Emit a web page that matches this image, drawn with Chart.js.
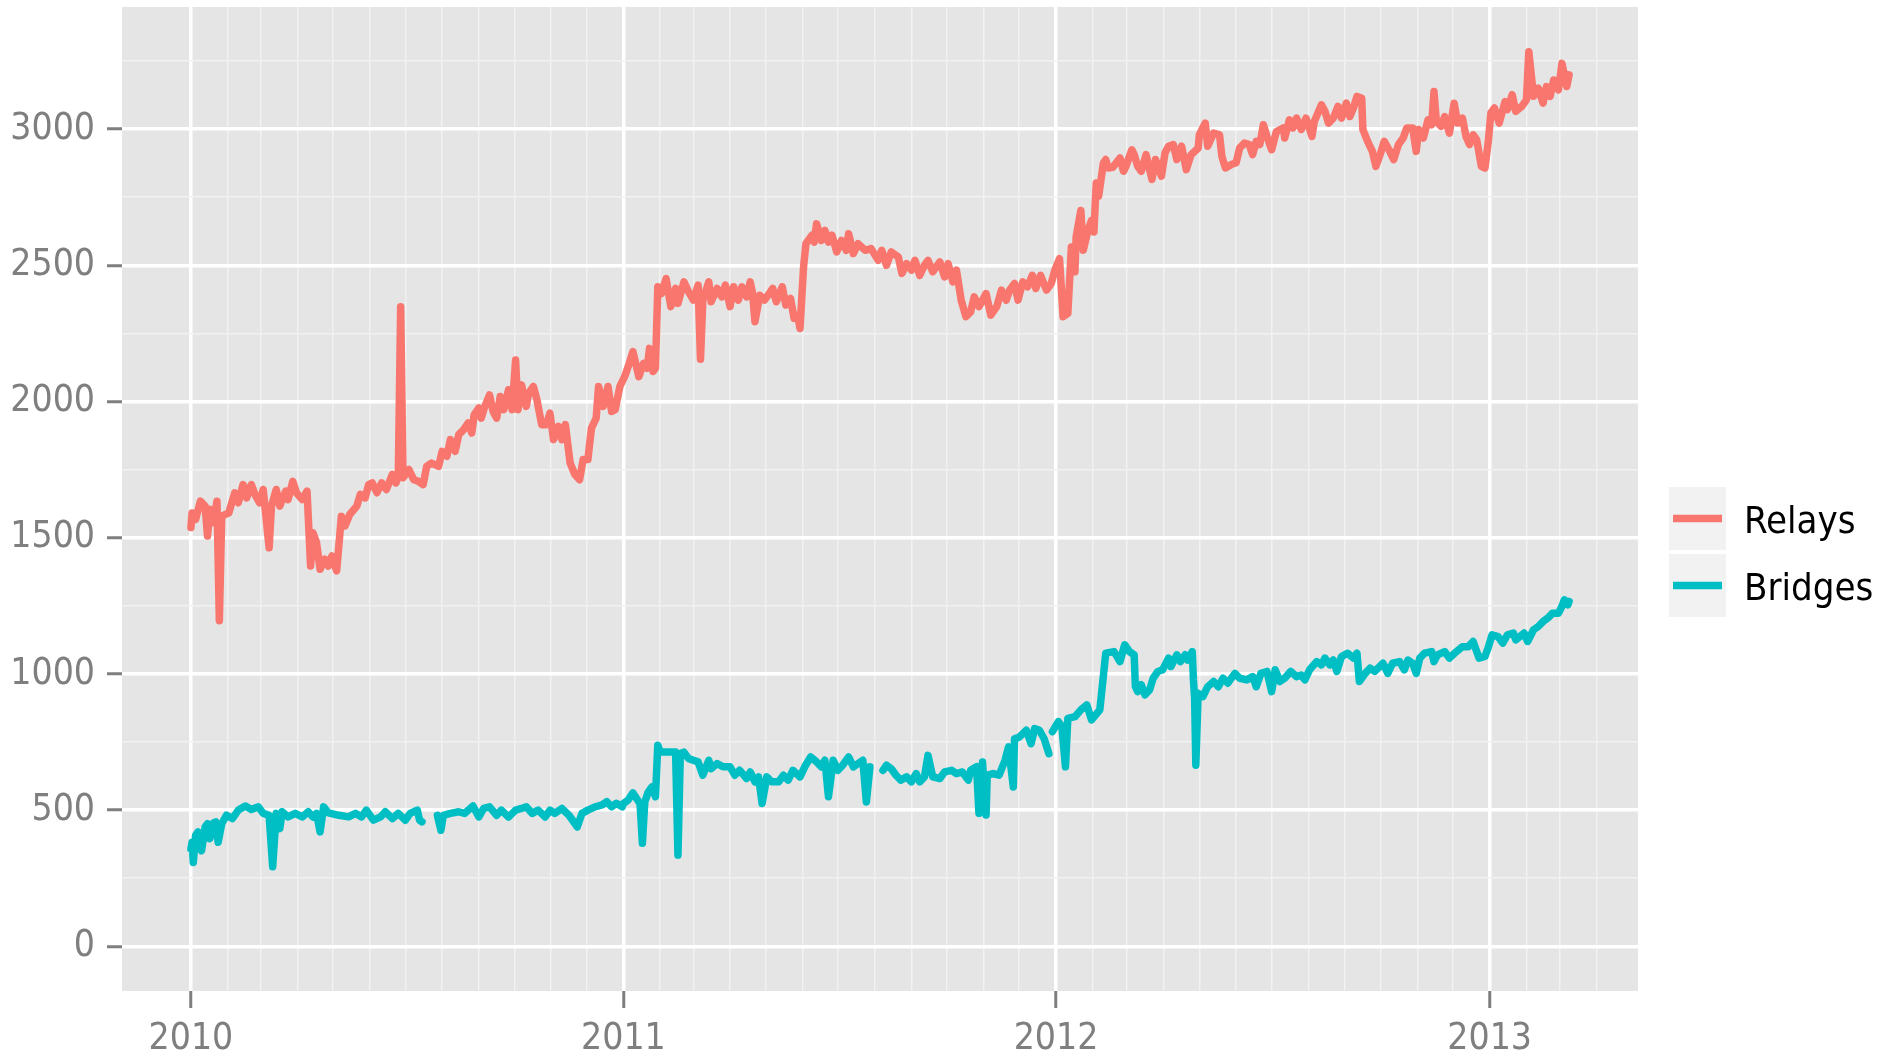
<!DOCTYPE html>
<html><head><meta charset="utf-8">
<script src="https://cdn.jsdelivr.net/npm/chart.js@4/dist/chart.umd.min.js"></script>
<style>html,body{margin:0;padding:0;background:#fff;overflow:hidden}canvas{display:block}</style>
</head><body>
<canvas id="c" width="1893" height="1057"></canvas>
<script>
// ---- data (day offsets from startDate) ----
const startDate = '2010-01-01';
const seriesNames = ['Relays', 'Bridges'];
const seriesColors = ['#F8766D', '#00BFC4'];

const relayDays = [0,1,4,8,12,14,16,19,22,24,26,32,37,40,44,47,51,54,58,61,66,68,72,75,80,82,86,89,94,98,101,103,106,109,113,116,119,123,127,130,134,140,143,147,150,153,157,161,165,170,173,175,177,179,184,188,192,196,199,203,209,212,216,219,223,226,230,234,237,239,243,245,248,252,255,258,261,264,268,271,274,276,279,283,285,289,292,296,300,303,306,310,313,316,320,324,328,331,335,338,342,344,348,352,355,358,362,
366,369,373,378,382,385,387,390,392,394,397,401,405,409,411,416,420,424,428,430,432,437,439,444,448,451,455,458,462,465,469,472,474,476,480,484,489,491,494,499,502,506,509,512,514,517,519,524,526,528,532,535,538,541,545,549,553,555,559,563,569,574,580,583,587,591,597,600,604,608,611,615,619,622,626,632,636,639,643,646,650,654,658,661,665,671,675,680,684,688,691,695,698,702,706,710,713,717,722,726,729,733,736,740,743,746,747,751,753,757,760,762,764,766,770,772,774,778,
784,787,789,794,796,799,802,806,811,814,819,822,825,829,832,836,840,844,850,851,856,858,863,868,870,873,878,882,885,889,893,896,899,902,905,908,912,916,922,923,927,930,933,937,941,946,948,954,957,960,964,968,971,975,978,981,984,988,989,993,997,1000,1004,1007,1011,1015,1019,1023,1026,1031,1034,1036,1040,1044,1047,1049,1051,1055,1058,1062,1066,1069,1073,1076,1079,1082,1085,1089,1092,1095,1097,1100,1104,1109,1111,1115,1118,1123,1127,1129,1133,1137,1141,1144,1147,1150,1154,1157,1161,1163];
const relayCounts = [1537,1591,1567,1634,1616,1506,1604,1555,1634,1195,1579,1591,1665,1628,1695,1646,1695,1659,1628,1677,1463,1616,1677,1616,1671,1640,1707,1665,1640,1671,1396,1518,1482,1384,1421,1396,1433,1378,1579,1543,1585,1616,1659,1646,1695,1701,1665,1701,1677,1732,1701,1726,2348,1720,1750,1713,1707,1695,1762,1774,1762,1817,1799,1860,1817,1878,1896,1921,1884,1951,1976,1939,1982,2024,1963,1939,2018,1970,2043,1970,2152,1970,2061,1982,2030,2055,2006,1915,1915,1957,1860,1909,1860,1915,1774,1732,1713,1787,1787,1902,1939,2055,1982,2055,1963,1970,2055,
2091,2128,2183,2091,2140,2122,2195,2110,2122,2421,2396,2451,2348,2415,2360,2439,2402,2372,2427,2155,2372,2439,2366,2415,2384,2427,2348,2421,2372,2421,2384,2439,2396,2293,2390,2372,2402,2415,2366,2421,2354,2378,2305,2317,2268,2494,2579,2610,2585,2652,2591,2628,2585,2610,2549,2591,2555,2616,2543,2579,2555,2561,2518,2555,2500,2549,2530,2470,2506,2482,2518,2463,2500,2518,2476,2512,2457,2506,2439,2482,2372,2311,2329,2384,2348,2396,2317,2348,2409,2372,2409,2433,2372,2439,2421,2463,2415,2463,2409,2433,2482,2524,2311,2323,2567,2476,2604,2701,2555,2628,2665,2622,2802,2753,2875,2888,2857,2860,
2894,2845,2863,2924,2906,2863,2845,2906,2815,2888,2827,2912,2937,2943,2888,2937,2851,2906,2930,2979,3022,2937,2985,2979,2900,2857,2870,2876,2930,2949,2943,2906,2955,2943,3016,2973,2924,2991,3004,2967,3034,3004,3040,2998,3040,2973,3028,3089,3065,3022,3040,3083,3040,3095,3046,3077,3120,3113,2998,2955,2918,2863,2912,2955,2924,2888,2943,2967,3004,3004,2918,2998,2967,3034,3016,3138,3028,3010,3046,2985,3095,3022,3040,2973,2943,2979,2961,2863,2857,2961,3059,3077,3022,3101,3071,3126,3065,3083,3107,3284,3120,3150,3095,3156,3120,3180,3144,3241,3156,3199];

const bridgeDays = [0,1,2,4,6,9,12,14,16,18,21,23,26,30,35,40,46,51,57,61,66,69,72,75,77,82,88,94,99,103,106,109,112,116,125,133,139,144,148,154,160,164,170,175,181,185,191,193,195,200,208,211,213,219,226,231,238,243,247,252,258,262,268,274,279,283,288,293,299,303,307,313,319,323,326,330,335,341,347,351,355,359,364,
365,369,373,376,379,381,383,386,389,392,394,396,402,409,411,413,416,420,424,428,432,437,439,444,449,455,459,463,469,472,476,479,482,486,490,496,500,504,508,514,518,523,528,532,535,538,542,546,550,555,559,563,567,570,573,578,584,587,591,595,599,604,608,612,615,619,622,626,632,636,642,646,651,656,658,663,665,668,671,672,677,682,687,690,694,695,699,705,709,712,716,720,724,725,727,732,735,738,740,746,751,756,760,767,772,779,
784,788,792,796,797,799,802,805,809,812,816,820,825,827,832,835,839,841,845,846,847,848,850,854,858,863,867,871,875,881,885,891,896,899,903,908,912,915,919,923,928,933,937,940,944,950,954,957,961,964,967,971,976,981,984,986,991,995,999,1006,1010,1014,1020,1024,1027,1031,1034,1037,1041,1047,1049,1052,1058,1062,1068,1073,1078,1082,1087,1092,1095,1098,1103,1107,1111,1116,1118,1125,1128,1133,1137,1141,1145,1149,1154,1157,1159,1162,1163];
const bridgeCounts = [358,382,308,407,420,351,438,450,395,450,457,382,450,481,469,500,515,502,512,488,481,292,488,432,494,475,488,475,494,475,488,420,512,490,481,475,488,475,500,463,475,494,469,488,463,488,500,463,457,null,481,426,481,488,494,488,515,475,506,512,481,500,475,500,506,512,488,500,475,500,488,506,481,457,438,488,500,512,519,531,512,525,512,
524,537,563,543,524,378,530,567,585,549,738,713,713,713,335,707,713,689,683,677,628,683,652,671,659,659,628,646,616,640,604,622,524,622,604,604,628,610,646,622,659,695,677,659,683,549,683,646,665,695,659,671,683,530,659,null,646,665,652,628,610,622,604,634,604,622,701,622,616,640,646,634,640,610,646,659,488,677,482,628,634,628,683,732,585,762,768,793,744,799,793,762,707,null,788,825,806,659,837,843,868,886,831,868,1076,1082,
1045,1107,1082,1070,953,935,960,923,941,984,1009,1015,1058,1027,1070,1045,1070,1051,1082,978,911,665,929,917,953,972,953,984,966,1002,984,978,990,953,1002,1009,935,1015,972,984,1009,990,996,978,1015,1045,1033,1058,1033,1051,1009,1064,1076,1058,1076,972,1002,1021,1009,1039,1002,1039,1045,1015,1051,1039,1002,1058,1076,1082,1045,1070,1082,1058,1082,1100,1100,1119,1058,1064,1100,1143,1137,1113,1143,1150,1125,1150,1119,1162,1174,1192,1205,1223,1223,1248,1272,1254,1266];

// ---- axis ticks ----
const yearTickLabels = ['2010', '2011', '2012', '2013'];
const lastMonthTick = '2013-04-01';
const yMajorTicks = [0, 500, 1000, 1500, 2000, 2500, 3000];
const yMinorTicks = [250, 750, 1250, 1750, 2250, 2750, 3250];
const xLimits = [-58.15, 1221.15];
const yLimits = [-164, 3448];

// ---- build ----
const DAY = 86400000;
const t0 = Date.parse(startDate + 'T00:00:00Z');
const dayOf = s => Math.round((Date.parse(s + 'T00:00:00Z') - t0) / DAY);
const monthTicks = [];
const yearTickDays = yearTickLabels.map(y => dayOf(y + '-01-01'));
{
  const endDay = dayOf(lastMonthTick);
  const firstYear = parseInt(yearTickLabels[0], 10);
  for (let i = 0; ; i++) {
    const d = new Date(Date.UTC(firstYear, i, 1));
    const v = Math.round((d.getTime() - t0) / DAY);
    if (v > endDay) break;
    monthTicks.push(v);
  }
}
const isYearTick = v => yearTickDays.includes(v);
const isYMajor = v => yMajorTicks.includes(v);
const yTicksAll = [...yMajorTicks, ...yMinorTicks].sort((a, b) => a - b);

function pickFamily() {
  const c = document.createElement('canvas').getContext('2d');
  c.font = "40px 'DejaVu Sans Condensed', monospace";
  const a = c.measureText('3000 Bridges').width;
  c.font = "40px monospace";
  const b = c.measureText('3000 Bridges').width;
  return a !== b ? "'DejaVu Sans Condensed', 'DejaVu Sans', sans-serif" : "'DejaVu Sans', sans-serif";
}
const FAMILY = pickFamily();

const toPts = (days, vals) => days.map((d, i) => ({ x: d, y: vals[i] }));

const panelBg = {
  id: 'panelBg',
  beforeDraw(chart) {
    const { ctx, chartArea: a } = chart;
    ctx.save();
    ctx.fillStyle = '#E5E5E5';
    ctx.fillRect(a.left, a.top, a.right - a.left, a.bottom - a.top);
    ctx.restore();
  }
};

const ggLegend = {
  id: 'ggLegend',
  afterDraw(chart) {
    const { ctx } = chart;
    ctx.save();
    const keyX = 1669, keyW = 57, keyH = 63, top0 = 487, step = 67;
    chart.data.datasets.forEach((ds, i) => {
      const y = top0 + i * step;
      ctx.fillStyle = '#F2F2F2';
      ctx.fillRect(keyX, y, keyW, keyH);
      ctx.strokeStyle = ds.borderColor;
      ctx.lineWidth = 7.5;
      ctx.lineCap = 'butt';
      ctx.beginPath();
      ctx.moveTo(keyX + 4, y + keyH / 2);
      ctx.lineTo(keyX + keyW - 4, y + keyH / 2);
      ctx.stroke();
      ctx.fillStyle = '#000000';
      ctx.font = '38px ' + FAMILY;
      ctx.textAlign = 'left';
      ctx.textBaseline = 'middle';
      ctx.fillText(ds.label, 1744, y + keyH / 2 + 5);
    });
    ctx.restore();
  }
};

const lineStyle = { borderWidth: 7.5, pointRadius: 0, borderJoinStyle: 'round', borderCapStyle: 'round', tension: 0, spanGaps: false, fill: false };

new Chart(document.getElementById('c'), {
  type: 'line',
  data: {
    datasets: [
      Object.assign({ label: seriesNames[0], data: toPts(relayDays, relayCounts), borderColor: seriesColors[0], backgroundColor: seriesColors[0] }, lineStyle),
      Object.assign({ label: seriesNames[1], data: toPts(bridgeDays, bridgeCounts), borderColor: seriesColors[1], backgroundColor: seriesColors[1] }, lineStyle)
    ]
  },
  options: {
    responsive: false,
    animation: false,
    events: [],
    layout: { padding: { left: 0, top: 7, right: 255, bottom: 0 } },
    plugins: { legend: { display: false }, tooltip: { enabled: false } },
    scales: {
      x: {
        type: 'linear',
        min: xLimits[0], max: xLimits[1],
        afterBuildTicks: s => { s.ticks = monthTicks.map(v => ({ value: v })); },
        afterFit: s => { s.height = 66; s.paddingLeft = 0; s.paddingRight = 0; },
        ticks: {
          autoSkip: false, maxRotation: 0, minRotation: 0, padding: 9,
          color: '#7F7F7F', font: { family: FAMILY, size: 37 },
          callback: v => { const k = yearTickDays.indexOf(v); return k >= 0 ? yearTickLabels[k] : ''; }
        },
        grid: {
          color: c => isYearTick(c.tick && c.tick.value) ? '#FFFFFF' : '#F2F2F2',
          lineWidth: c => isYearTick(c.tick && c.tick.value) ? 3.5 : 1.5,
          tickColor: c => isYearTick(c.tick && c.tick.value) ? '#7F7F7F' : 'rgba(0,0,0,0)',
          tickLength: 17, tickWidth: 3
        },
        border: { display: false }
      },
      y: {
        type: 'linear',
        min: yLimits[0], max: yLimits[1],
        afterBuildTicks: s => { s.ticks = yTicksAll.map(v => ({ value: v })); },
        afterFit: s => { s.width = 122; s.paddingTop = 0; s.paddingBottom = 0; },
        ticks: {
          autoSkip: false, padding: 12,
          color: '#7F7F7F', font: { family: FAMILY, size: 37 },
          callback: v => isYMajor(v) ? String(v) : ''
        },
        grid: {
          color: c => isYMajor(c.tick && c.tick.value) ? '#FFFFFF' : '#F2F2F2',
          lineWidth: c => isYMajor(c.tick && c.tick.value) ? 3.5 : 1.5,
          tickColor: c => isYMajor(c.tick && c.tick.value) ? '#7F7F7F' : 'rgba(0,0,0,0)',
          tickLength: 15, tickWidth: 3
        },
        border: { display: false }
      }
    }
  },
  plugins: [panelBg, ggLegend]
});
</script>
</body></html>
